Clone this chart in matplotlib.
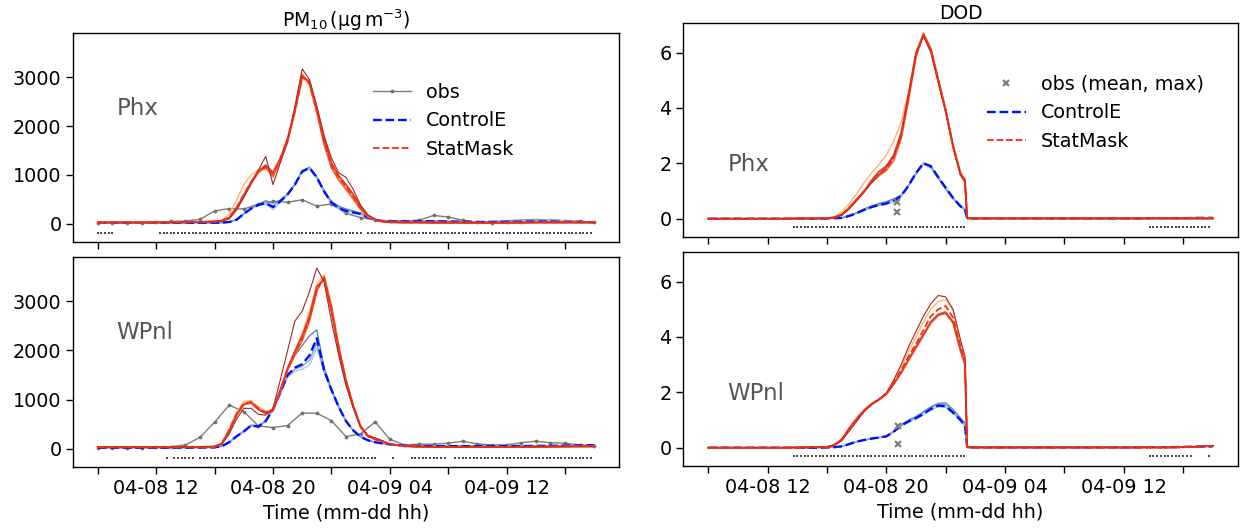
import numpy as np
import matplotlib
matplotlib.use("Agg")
import matplotlib.pyplot as plt

# ---------------- time axes (hours since 04-08 08) ----------------
obs_hours = list(range(0, 35))
t_pm = [0, 1, 2, 3, 4, 5, 6, 7, 8,
        8.5, 9, 9.5, 10, 10.5, 11, 11.5, 12, 12.5, 13, 13.5, 14, 14.5, 15, 15.5,
        16, 16.5, 17, 17.5, 18, 18.5, 19, 19.5,
        20, 21, 22, 23, 24, 25, 26, 27, 28, 29, 30, 31, 32, 33, 34]
t_dod = [0, 1, 2, 3, 4, 5, 6, 7, 8,
         8.5, 9, 9.5, 10, 10.5, 11, 11.5, 12, 12.5, 13, 13.5, 14, 14.5, 15, 15.5,
         16, 16.5, 17, 17.3, 17.45,
         18, 19,
         20, 21, 22, 23, 24, 25, 26, 27, 28, 29, 30, 31, 32, 33, 34]
tick_hours = [0, 4, 8, 12, 16, 20, 24, 28, 32]
tick_labels = ['', '04-08 12', '', '04-08 20', '', '04-09 04', '', '04-09 12', '']
stations = ['Phx', 'WPnl']

# ---------------- PM10, Phx ----------------
phx_pm_obs = [20, 20, 20, 20, 30, 45, 55, 90, 260, 310, 300, 400, 460, 440, 490, 360, 405,
              210, 125, 75, 60, 60, 70, 170, 135, 70, 30, 10, 30, 40, 70, 75, 60, 45, 35]
phx_pm_red_pre = [25, 25, 25, 25, 25, 27, 30, 35, 45]
phx_pm_red_post = [30, 25, 25, 22, 22, 22, 20, 20, 20, 22, 25, 25, 25, 25, 25]
phx_pm_red_mean = [60, 130, 330, 600, 860, 1080, 1170, 1020, 1330, 1720, 2300, 3020, 2880, 2320,
                   1680, 1200, 950, 760, 560, 320, 160, 80, 45]
phx_pm_red_m1 = [70, 200, 480, 800, 1000, 1100, 1120, 1060, 1350, 1700, 2250, 2950, 2900, 2300,
                 1650, 1150, 880, 680, 480, 280, 140, 70, 40]
phx_pm_red_m2 = [60, 110, 300, 560, 820, 1050, 1150, 960, 1280, 1680, 2350, 3060, 2850, 2280,
                 1620, 1150, 900, 720, 520, 300, 150, 75, 45]
phx_pm_red_m3 = [60, 120, 320, 580, 850, 1080, 1200, 1050, 1330, 1750, 2330, 3000, 2920, 2380,
                 1750, 1250, 980, 800, 600, 340, 170, 85, 45]
phx_pm_red_m4 = [55, 100, 280, 540, 820, 1100, 1380, 800, 1250, 1680, 2400, 3170, 2950, 2400,
                 1800, 1350, 1040, 950, 700, 380, 180, 90, 50]
phx_pm_blue_pre = [20, 20, 20, 20, 20, 20, 20, 20, 20]
phx_pm_blue_mean = [22, 35, 80, 200, 310, 385, 420, 340, 460, 600, 800, 1070, 1140, 950, 660,
                    430, 320, 260, 230, 200, 130, 75, 50]
phx_pm_blue_mean_post = [45, 45, 50, 50, 45, 40, 35, 35, 35, 40, 45, 45, 40, 35, 30]
phx_pm_blue_m1 = [22, 35, 85, 210, 320, 400, 470, 420, 480, 610, 810, 1080, 1160, 960, 680,
                  460, 360, 300, 260, 220, 140, 80, 50]
phx_pm_blue_m1_post = [45, 50, 55, 55, 50, 45, 40, 45, 60, 75, 85, 80, 60, 45, 35]
phx_pm_blue_m2 = [22, 35, 75, 190, 300, 380, 400, 290, 430, 590, 790, 1060, 1130, 930, 640,
                  410, 300, 240, 210, 185, 120, 70, 48]
phx_pm_blue_m2_post = [45, 45, 48, 48, 45, 40, 35, 35, 40, 55, 70, 75, 60, 40, 30]
phx_pm_blue_m3 = [22, 35, 80, 200, 310, 390, 440, 360, 470, 600, 800, 1080, 1150, 950, 670,
                  440, 330, 275, 245, 210, 135, 78, 50]
phx_pm_avail = [(0, 1.0), (4.25, 18.0), (18.5, 33.75)]

# ---------------- PM10, WPnl ----------------
wpnl_pm_obs = [20, 20, 20, 20, 27, 40, 75, 230, 540, 885, 755, 460, 430, 470, 725, 720, 570,
               245, 300, 545, 190, 75, 90, 90, 110, 150, 95, 75, 75, 120, 150, 120, 110, 75, 55]
wpnl_pm_red_pre = [30, 30, 30, 30, 30, 30, 32, 35, 40]
wpnl_pm_red_post = [90, 50, 40, 35, 35, 35, 35, 35, 35, 35, 38, 40, 42, 45, 45]
wpnl_pm_red_mean = [110, 380, 700, 920, 950, 820, 740, 790, 1180, 1620, 1950, 2250, 2650, 3250,
                    3480, 2850, 2050, 1380, 860, 450, 250, 190, 150]
wpnl_pm_red_m1 = [120, 400, 740, 960, 980, 850, 760, 800, 1200, 1650, 2000, 2350, 2800, 3350,
                  3550, 2950, 2100, 1400, 870, 460, 260, 200, 150]
wpnl_pm_red_m2 = [100, 360, 690, 910, 940, 800, 720, 770, 1170, 1600, 1920, 2200, 2600, 3200,
                  3500, 2900, 2080, 1400, 880, 460, 260, 190, 150]
wpnl_pm_red_m3 = [100, 350, 680, 900, 930, 800, 720, 780, 1190, 1640, 1980, 2300, 2700, 3300,
                  3450, 2800, 2020, 1360, 850, 440, 250, 190, 150]
wpnl_pm_red_m4 = [90, 300, 600, 820, 820, 700, 680, 820, 1400, 2000, 2600, 2800, 3200, 3680,
                  3400, 2600, 1900, 1280, 820, 430, 270, 220, 160]
wpnl_pm_blue_pre = [20, 20, 20, 20, 20, 20, 20, 22, 25]
wpnl_pm_blue_post = [85, 60, 50, 50, 50, 50, 50, 50, 50, 52, 55, 58, 62, 65, 68]
wpnl_pm_blue_mean = [50, 130, 250, 350, 470, 450, 560, 800, 1150, 1500, 1650, 1720, 1900, 2250,
                     1600, 1200, 850, 560, 370, 240, 170, 130, 105]
wpnl_pm_blue_m1 = [50, 130, 250, 360, 480, 460, 570, 820, 1200, 1600, 1900, 2100, 2300, 2420,
                   1650, 1220, 860, 560, 370, 240, 170, 130, 105]
wpnl_pm_blue_m2 = [50, 130, 240, 340, 460, 440, 550, 780, 1100, 1450, 1580, 1620, 1700, 2050,
                   1550, 1180, 840, 560, 370, 240, 170, 130, 105]
wpnl_pm_blue_m3 = [50, 130, 250, 350, 470, 450, 560, 800, 1150, 1480, 1620, 1680, 1800, 2150,
                   1580, 1190, 850, 560, 370, 240, 170, 130, 105]
wpnl_pm_avail = [(4.75, 4.75), (5.25, 6.5), (7.0, 19.0), (20.25, 20.25), (21.5, 23.75), (24.5, 33.75)]

# ---------------- DOD, Phx ----------------
phx_dod_obs_time = [12.75]
phx_dod_obs_mean = [0.24]
phx_dod_obs_max = [0.60]
phx_dod_red_pre = [0, 0, 0, 0, 0, 0, 0.01, 0.01, 0.02]
phx_dod_red_post = [0.01, 0.01] + [0.01] * 15
phx_dod_red_mean = [0.05, 0.15, 0.4, 0.7, 1.0, 1.35, 1.6, 1.8, 2.2, 3.0, 4.4, 5.9, 6.6, 6.1,
                    5.0, 3.9, 2.6, 1.6, 1.35, 0.02]
phx_dod_red_m1 = [0.07, 0.22, 0.55, 0.9, 1.3, 1.65, 1.95, 2.3, 2.8, 3.5, 4.6, 5.9, 6.6, 6.05,
                  4.95, 3.85, 2.55, 1.55, 1.3, 0.02]
phx_dod_red_m2 = [0.05, 0.15, 0.4, 0.7, 1.0, 1.3, 1.55, 1.75, 2.1, 2.9, 4.3, 5.85, 6.7, 6.15,
                  5.05, 3.9, 2.6, 1.6, 1.35, 0.02]
phx_dod_red_m3 = [0.05, 0.14, 0.38, 0.68, 0.98, 1.38, 1.7, 1.9, 2.3, 3.1, 4.5, 6.0, 6.65, 6.1,
                  5.0, 3.95, 2.65, 1.65, 1.4, 0.02]
phx_dod_red_m4 = [0.04, 0.12, 0.35, 0.65, 0.95, 1.3, 1.6, 1.85, 2.25, 3.0, 4.4, 5.95, 6.6, 6.0,
                  4.9, 3.85, 2.6, 1.6, 1.35, 0.02]
phx_dod_blue_pre = [0, 0, 0, 0, 0, 0, 0, 0, 0.01]
phx_dod_blue_post = [0.01, 0.01, 0.01, 0.01, 0.01, 0.01, 0.01, 0.01, 0.01, 0.01, 0.01, 0.01,
                     0.02, 0.02, 0.02, 0.03, 0.03]
phx_dod_blue_mean = [0.02, 0.03, 0.1, 0.2, 0.32, 0.42, 0.5, 0.55, 0.65, 0.82, 1.2, 1.65, 2.0,
                     1.9, 1.5, 1.12, 0.75, 0.45, 0.35, 0.01]
phx_dod_blue_m1 = [0.02, 0.04, 0.12, 0.22, 0.35, 0.46, 0.55, 0.62, 0.72, 0.85, 1.2, 1.62, 1.98,
                   1.85, 1.45, 1.08, 0.72, 0.43, 0.33, 0.01]
phx_dod_blue_m2 = [0.02, 0.03, 0.1, 0.2, 0.31, 0.41, 0.48, 0.52, 0.6, 0.8, 1.22, 1.68, 2.04,
                   1.92, 1.52, 1.14, 0.77, 0.46, 0.36, 0.01]
phx_dod_blue_m3 = [0.02, 0.03, 0.1, 0.19, 0.3, 0.4, 0.5, 0.57, 0.68, 0.84, 1.18, 1.63, 1.98,
                   1.88, 1.48, 1.1, 0.74, 0.44, 0.34, 0.01]
phx_dod_avail = [(5.75, 17.25), (29.75, 33.75)]

# ---------------- DOD, WPnl ----------------
wpnl_dod_obs_time = [12.8]
wpnl_dod_obs_mean = [0.13]
wpnl_dod_obs_max = [0.80]
wpnl_dod_red_pre = [0, 0, 0, 0, 0, 0, 0.01, 0.02, 0.03]
wpnl_dod_red_post = [0.01, 0.01, 0.01, 0.01, 0.01, 0.01, 0.01, 0.01, 0.01, 0.01, 0.01, 0.01,
                     0.01, 0.01, 0.02, 0.04, 0.07]
wpnl_dod_red_mean = [0.1, 0.3, 0.7, 1.05, 1.35, 1.58, 1.75, 1.95, 2.35, 2.8, 3.3, 3.75, 4.25,
                     4.75, 5.0, 5.12, 4.7, 3.65, 3.15, 0.02]
wpnl_dod_red_m1 = [0.1, 0.3, 0.7, 1.05, 1.35, 1.58, 1.75, 1.95, 2.4, 2.9, 3.5, 4.0, 4.55, 5.0,
                   5.28, 5.35, 4.95, 3.8, 3.25, 0.02]
wpnl_dod_red_m2 = [0.1, 0.3, 0.7, 1.05, 1.35, 1.58, 1.75, 1.95, 2.3, 2.7, 3.15, 3.6, 4.05, 4.5,
                   4.78, 4.85, 4.5, 3.5, 3.0, 0.02]
wpnl_dod_red_m3 = [0.1, 0.3, 0.68, 1.03, 1.33, 1.56, 1.73, 1.93, 2.3, 2.72, 3.2, 3.65, 4.1, 4.55,
                   4.82, 4.9, 4.55, 3.55, 3.05, 0.02]
wpnl_dod_red_m4 = [0.08, 0.25, 0.6, 0.95, 1.3, 1.55, 1.75, 1.98, 2.45, 3.0, 3.65, 4.2, 4.75, 5.2,
                   5.5, 5.45, 5.0, 3.9, 3.3, 0.02]
wpnl_dod_blue_pre = [0, 0, 0, 0, 0, 0, 0, 0, 0.01]
wpnl_dod_blue_post = [0.01, 0.01, 0.01, 0.01, 0.01, 0.01, 0.01, 0.01, 0.01, 0.01, 0.01, 0.01,
                      0.02, 0.02, 0.03, 0.04, 0.05]
wpnl_dod_blue_mean = [0.02, 0.05, 0.13, 0.22, 0.28, 0.33, 0.37, 0.41, 0.58, 0.8, 0.95, 1.07, 1.22,
                      1.4, 1.52, 1.5, 1.27, 1.0, 0.8, 0.01]
wpnl_dod_blue_m1 = [0.02, 0.05, 0.13, 0.22, 0.28, 0.33, 0.37, 0.42, 0.6, 0.83, 1.0, 1.13, 1.3,
                    1.48, 1.6, 1.62, 1.38, 1.08, 0.88, 0.01]
wpnl_dod_blue_m2 = [0.02, 0.05, 0.13, 0.22, 0.28, 0.33, 0.37, 0.41, 0.57, 0.78, 0.93, 1.04, 1.18,
                    1.36, 1.48, 1.46, 1.24, 0.98, 0.78, 0.01]
wpnl_dod_blue_m3 = [0.02, 0.05, 0.12, 0.21, 0.27, 0.32, 0.36, 0.4, 0.58, 0.81, 0.97, 1.1, 1.26,
                    1.44, 1.56, 1.55, 1.32, 1.04, 0.84, 0.01]
wpnl_dod_avail = [(5.75, 17.25), (29.75, 32.5), (33.75, 33.75)]

# ---------------- styles ----------------
FS = 13.8
red_colors = ['#fdb46e', '#ee6a3c', '#d8402a', '#9a2a2a']
red_widths = [1.0, 1.3, 1.3, 0.8]
blue_colors = ['#5a87b0', '#a9cbe6', '#7ea6cc']
RED_MEAN = '#ff2a10'
BLUE_MEAN = '#0010ff'
GREY = '#6e6e6e'

W, H = 1242, 531
fig = plt.figure(figsize=(W / 100, H / 100), dpi=100)


def px_axes(l, t, r, b):
    return fig.add_axes([l / W, 1 - b / H, (r - l) / W, (b - t) / H])


ax_tl = px_axes(73, 33, 619, 242)
ax_bl = px_axes(73, 257, 619, 467)
ax_tr = px_axes(683, 23, 1238, 237)
ax_br = px_axes(683, 252, 1238, 466)


def draw_models(ax, t, blue_series, red_series):
    for c, s in zip(blue_colors, blue_series[1:]):
        ax.plot(t, s, color=c, lw=1.0, zorder=3)
    hb, = ax.plot(t, blue_series[0], color=BLUE_MEAN, ls='--', lw=1.7, zorder=4)
    for c, w, s in zip(red_colors, red_widths, red_series[1:]):
        ax.plot(t, s, color=c, lw=w, zorder=5)
    hr, = ax.plot(t, red_series[0], color=RED_MEAN, ls='--', lw=1.3, zorder=6)
    return hb, hr


def draw_avail(ax, segments, y):
    for a, b in segments:
        xs = np.arange(a, b + 1e-6, 0.25)
        ax.plot(xs, np.full(len(xs), y), ls='none', marker='s', ms=1.5, mew=0,
                color='#484848', zorder=2)


def style(ax, yticks, ylim, bottom):
    ax.set_xlim(-1.7, 35.7)
    ax.set_ylim(*ylim)
    ax.set_yticks(yticks)
    ax.set_xticks(tick_hours)
    if bottom:
        ax.set_xticklabels(tick_labels)
        ax.set_xlabel('Time (mm-dd hh)', fontsize=FS)
    else:
        ax.set_xticklabels([])
    ax.tick_params(labelsize=FS, length=4.8, width=1.0)
    for sp in ax.spines.values():
        sp.set_linewidth(1.0)


# ---- PM10 panels ----
pm_panels = [
    (ax_tl, phx_pm_obs,
     [phx_pm_blue_pre + phx_pm_blue_mean + phx_pm_blue_mean_post,
      phx_pm_blue_pre + phx_pm_blue_m1 + phx_pm_blue_m1_post,
      phx_pm_blue_pre + phx_pm_blue_m2 + phx_pm_blue_m2_post,
      phx_pm_blue_pre + phx_pm_blue_m3 + phx_pm_blue_mean_post],
     [phx_pm_red_pre + s + phx_pm_red_post for s in
      (phx_pm_red_mean, phx_pm_red_m1, phx_pm_red_m2, phx_pm_red_m3, phx_pm_red_m4)],
     phx_pm_avail, stations[0], False),
    (ax_bl, wpnl_pm_obs,
     [wpnl_pm_blue_pre + s + wpnl_pm_blue_post for s in
      (wpnl_pm_blue_mean, wpnl_pm_blue_m1, wpnl_pm_blue_m2, wpnl_pm_blue_m3)],
     [wpnl_pm_red_pre + s + wpnl_pm_red_post for s in
      (wpnl_pm_red_mean, wpnl_pm_red_m1, wpnl_pm_red_m2, wpnl_pm_red_m3, wpnl_pm_red_m4)],
     wpnl_pm_avail, stations[1], True),
]

for ax, obs, blues, reds, avail, name, bottom in pm_panels:
    ho, = ax.plot(obs_hours, obs, color=GREY, lw=1.0, marker='.', ms=3.5, alpha=0.9, zorder=2.5)
    hb, hr = draw_models(ax, t_pm, blues, reds)
    draw_avail(ax, avail, -190)
    style(ax, [0, 1000, 2000, 3000], (-375, 3905), bottom)
    ax.text(0.08, 0.64, name, transform=ax.transAxes, fontsize=16.5, color='#555555', va='center')
    if not bottom:
        ax.legend([ho, hb, hr], ['obs', 'ControlE', 'StatMask'], loc='center left',
                  bbox_to_anchor=(0.517, 0.58), frameon=False, fontsize=FS)

ax_tl.set_title(r'PM$_{10}\,$(μg$\,$m$^{-3}$)', fontsize=13.5, pad=4)

# ---- DOD panels ----
dod_panels = [
    (ax_tr, phx_dod_obs_time, phx_dod_obs_mean, phx_dod_obs_max,
     [phx_dod_blue_pre + s + phx_dod_blue_post for s in
      (phx_dod_blue_mean, phx_dod_blue_m1, phx_dod_blue_m2, phx_dod_blue_m3)],
     [phx_dod_red_pre + s + phx_dod_red_post for s in
      (phx_dod_red_mean, phx_dod_red_m1, phx_dod_red_m2, phx_dod_red_m3, phx_dod_red_m4)],
     phx_dod_avail, stations[0], False, -0.31),
    (ax_br, wpnl_dod_obs_time, wpnl_dod_obs_mean, wpnl_dod_obs_max,
     [wpnl_dod_blue_pre + s + wpnl_dod_blue_post for s in
      (wpnl_dod_blue_mean, wpnl_dod_blue_m1, wpnl_dod_blue_m2, wpnl_dod_blue_m3)],
     [wpnl_dod_red_pre + s + wpnl_dod_red_post for s in
      (wpnl_dod_red_mean, wpnl_dod_red_m1, wpnl_dod_red_m2, wpnl_dod_red_m3, wpnl_dod_red_m4)],
     wpnl_dod_avail, stations[1], True, -0.29),
]

for ax, ot, om, ox, blues, reds, avail, name, bottom, dy in dod_panels:
    hb, hr = draw_models(ax, t_dod, blues, reds)
    ho, = ax.plot(ot + ot, om + ox, ls='none', marker='x', ms=5, mew=1.6, color='#808080', zorder=7)
    draw_avail(ax, avail, dy)
    style(ax, [0, 2, 4, 6], (-0.66, 7.07), bottom)
    ax.text(0.08, 0.34, name, transform=ax.transAxes, fontsize=16.5, color='#555555', va='center')
    if not bottom:
        ax.legend([ho, hb, hr], ['obs (mean, max)', 'ControlE', 'StatMask'], loc='center left',
                  bbox_to_anchor=(0.517, 0.58), frameon=False, fontsize=FS)

ax_tr.set_title('DOD', fontsize=13.5, pad=2)

fig.savefig('out.png', dpi=100)
